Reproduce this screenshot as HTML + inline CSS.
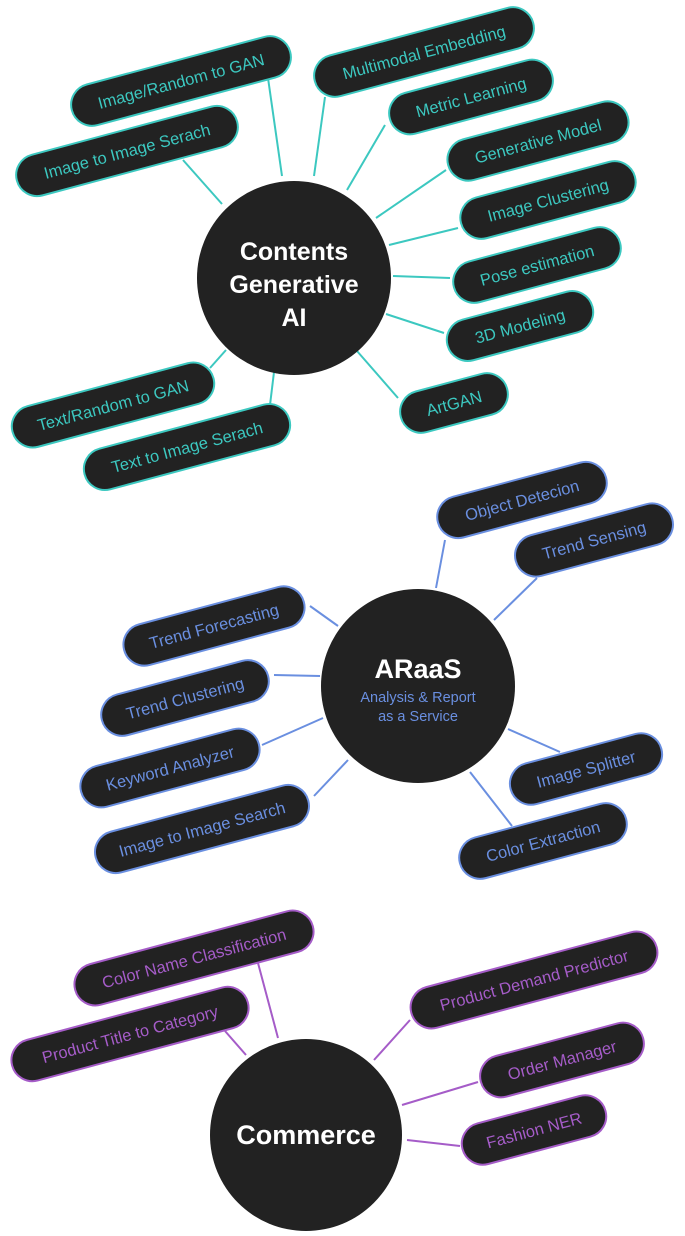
<!DOCTYPE html>
<html><head><meta charset="utf-8"><style>
html,body{margin:0;padding:0;background:#fff;}
svg{display:block;}
text{font-family:"Liberation Sans",sans-serif;}
</style></head><body>
<svg width="685" height="1236" viewBox="0 0 685 1236" xmlns="http://www.w3.org/2000/svg">
<g stroke-width="2" fill="none">
<g stroke="#3cc8c0">
<line x1="268" y1="78" x2="282" y2="176"/>
<line x1="325" y1="97" x2="314" y2="176"/>
<line x1="183" y1="160" x2="222" y2="204"/>
<line x1="385" y1="125" x2="347" y2="190"/>
<line x1="446" y1="170" x2="376" y2="218"/>
<line x1="458" y1="228" x2="389" y2="245"/>
<line x1="450" y1="278" x2="393" y2="276"/>
<line x1="444" y1="333" x2="386" y2="314"/>
<line x1="398" y1="398" x2="357" y2="351"/>
<line x1="210" y1="368" x2="226" y2="350"/>
<line x1="270" y1="405" x2="274" y2="372"/>
</g>
<g stroke="#6a8fe0">
<line x1="445" y1="540" x2="436" y2="588"/>
<line x1="537" y1="578" x2="494" y2="620"/>
<line x1="310" y1="606" x2="338" y2="626"/>
<line x1="274" y1="675" x2="320" y2="676"/>
<line x1="262" y1="745" x2="323" y2="718"/>
<line x1="314" y1="796" x2="348" y2="760"/>
<line x1="508" y1="729" x2="560" y2="752"/>
<line x1="470" y1="772" x2="512" y2="826"/>
</g>
<g stroke="#a55cc8">
<line x1="258" y1="963" x2="278" y2="1038"/>
<line x1="225" y1="1031" x2="246" y2="1055"/>
<line x1="410" y1="1020" x2="374" y2="1060"/>
<line x1="478" y1="1082" x2="402" y2="1105"/>
<line x1="460" y1="1146" x2="407" y2="1140"/>
</g>
</g>

<g fill="#222">
<circle cx="294" cy="278" r="97"/>
<circle cx="418" cy="686" r="97"/>
<circle cx="306" cy="1135" r="96"/>
</g>
<g fill="#fff" font-weight="bold" text-anchor="middle" font-size="25">
<text x="294" y="260">Contents</text>
<text x="294" y="293">Generative</text>
<text x="294" y="326">AI</text>
<text x="418" y="678" font-size="27">ARaaS</text>
<text x="306" y="1144" font-size="27">Commerce</text>
</g>
<g fill="#6a8fe0" text-anchor="middle" font-size="14.5">
<text x="418" y="702">Analysis &amp; Report</text>
<text x="418" y="721">as a Service</text>
</g>

<g font-size="16.5" text-anchor="middle">
<g fill="#222" stroke="#3cc8c0" stroke-width="2">
<g transform="translate(181,81) rotate(-15)"><rect x="-113" y="-21" width="226" height="42" rx="21"/><text dy="6" fill="#3cc8c0" stroke="none">Image/Random to GAN</text></g>
<g transform="translate(424,52) rotate(-15)"><rect x="-113" y="-21" width="226" height="42" rx="21"/><text dy="6" fill="#3cc8c0" stroke="none">Multimodal Embedding</text></g>
<g transform="translate(127,151) rotate(-15)"><rect x="-114" y="-21" width="228" height="42" rx="21"/><text dy="6" fill="#3cc8c0" stroke="none">Image to Image Serach</text></g>
<g transform="translate(471,97) rotate(-15)"><rect x="-84" y="-21" width="168" height="42" rx="21"/><text dy="6" fill="#3cc8c0" stroke="none">Metric Learning</text></g>
<g transform="translate(538,141) rotate(-15)"><rect x="-93" y="-21" width="186" height="42" rx="21"/><text dy="6" fill="#3cc8c0" stroke="none">Generative Model</text></g>
<g transform="translate(548,200) rotate(-15)"><rect x="-90" y="-21" width="180" height="42" rx="21"/><text dy="6" fill="#3cc8c0" stroke="none">Image Clustering</text></g>
<g transform="translate(537,265) rotate(-15)"><rect x="-86" y="-21" width="172" height="42" rx="21"/><text dy="6" fill="#3cc8c0" stroke="none">Pose estimation</text></g>
<g transform="translate(520,326) rotate(-15)"><rect x="-75" y="-21" width="150" height="42" rx="21"/><text dy="6" fill="#3cc8c0" stroke="none">3D Modeling</text></g>
<g transform="translate(454,403) rotate(-15)"><rect x="-55" y="-21" width="110" height="42" rx="21"/><text dy="6" fill="#3cc8c0" stroke="none">ArtGAN</text></g>
<g transform="translate(113,405) rotate(-15)"><rect x="-104" y="-21" width="208" height="42" rx="21"/><text dy="6" fill="#3cc8c0" stroke="none">Text/Random to GAN</text></g>
<g transform="translate(187,447) rotate(-15)"><rect x="-106" y="-21" width="212" height="42" rx="21"/><text dy="6" fill="#3cc8c0" stroke="none">Text to Image Serach</text></g>
</g>
<g fill="#222" stroke="#6a8fe0" stroke-width="2">
<g transform="translate(522,500) rotate(-15)"><rect x="-87" y="-21" width="174" height="42" rx="21"/><text dy="6" fill="#6a8fe0" stroke="none">Object Detecion</text></g>
<g transform="translate(594,540) rotate(-15)"><rect x="-81" y="-21" width="162" height="42" rx="21"/><text dy="6" fill="#6a8fe0" stroke="none">Trend Sensing</text></g>
<g transform="translate(214,626) rotate(-15)"><rect x="-93" y="-21" width="186" height="42" rx="21"/><text dy="6" fill="#6a8fe0" stroke="none">Trend Forecasting</text></g>
<g transform="translate(185,698) rotate(-15)"><rect x="-86" y="-21" width="172" height="42" rx="21"/><text dy="6" fill="#6a8fe0" stroke="none">Trend Clustering</text></g>
<g transform="translate(170,768) rotate(-15)"><rect x="-92" y="-21" width="184" height="42" rx="21"/><text dy="6" fill="#6a8fe0" stroke="none">Keyword Analyzer</text></g>
<g transform="translate(202,829) rotate(-15)"><rect x="-110" y="-21" width="220" height="42" rx="21"/><text dy="6" fill="#6a8fe0" stroke="none">Image to Image Search</text></g>
<g transform="translate(586,769) rotate(-15)"><rect x="-78" y="-21" width="156" height="42" rx="21"/><text dy="6" fill="#6a8fe0" stroke="none">Image Splitter</text></g>
<g transform="translate(543,841) rotate(-15)"><rect x="-86" y="-21" width="172" height="42" rx="21"/><text dy="6" fill="#6a8fe0" stroke="none">Color Extraction</text></g>
</g>
<g fill="#222" stroke="#a55cc8" stroke-width="2">
<g transform="translate(194,958) rotate(-15)"><rect x="-123" y="-21" width="246" height="42" rx="21"/><text dy="6" fill="#a55cc8" stroke="none">Color Name Classification</text></g>
<g transform="translate(130,1034) rotate(-15)"><rect x="-122" y="-21" width="244" height="42" rx="21"/><text dy="6" fill="#a55cc8" stroke="none">Product Title to Category</text></g>
<g transform="translate(534,980) rotate(-15)"><rect x="-127" y="-21" width="254" height="42" rx="21"/><text dy="6" fill="#a55cc8" stroke="none">Product Demand Predictor</text></g>
<g transform="translate(562,1060) rotate(-15)"><rect x="-84" y="-21" width="168" height="42" rx="21"/><text dy="6" fill="#a55cc8" stroke="none">Order Manager</text></g>
<g transform="translate(534,1130) rotate(-15)"><rect x="-74" y="-21" width="148" height="42" rx="21"/><text dy="6" fill="#a55cc8" stroke="none">Fashion NER</text></g>
</g>
</g>
</svg>
</body></html>
